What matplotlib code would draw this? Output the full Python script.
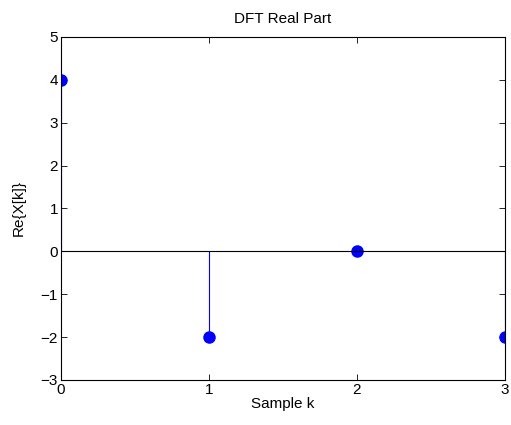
import numpy as np
import matplotlib
matplotlib.use("Agg")
import matplotlib.pyplot as plt

# DFT real part values
k = [0, 1, 2, 3]
re_X = [4, -2, 0, -2]

plt.rcParams['font.family'] = ['Liberation Sans', 'DejaVu Sans']
plt.rcParams['font.size'] = 11

fig = plt.figure(figsize=(5.11, 4.25), dpi=100)
ax = fig.add_axes([0.119, 0.106, 0.869, 0.807])

markerline, stemlines, baseline = ax.stem(k, re_X, basefmt='k-')
plt.setp(markerline, color='blue', marker='o', markersize=8)
plt.setp(stemlines, color='blue', linewidth=0.8)
plt.setp(baseline, color='black', linewidth=0.8)

ax.set_xlim(0, 3)
ax.set_ylim(-3, 5)
ax.set_xticks(np.arange(0, 4, 1))
ax.set_yticks(np.arange(-3, 6, 1))
ax.tick_params(direction='in', top=True, right=True, length=4, width=0.6, pad=2)
for s in ax.spines.values():
    s.set_linewidth(0.8)

ax.set_title('DFT Real Part', fontsize=11, pad=10)
ax.set_xlabel('Sample k', labelpad=0)
ax.set_ylabel('Re{X[k]}', labelpad=11)

fig.savefig('out.png', dpi=100)
